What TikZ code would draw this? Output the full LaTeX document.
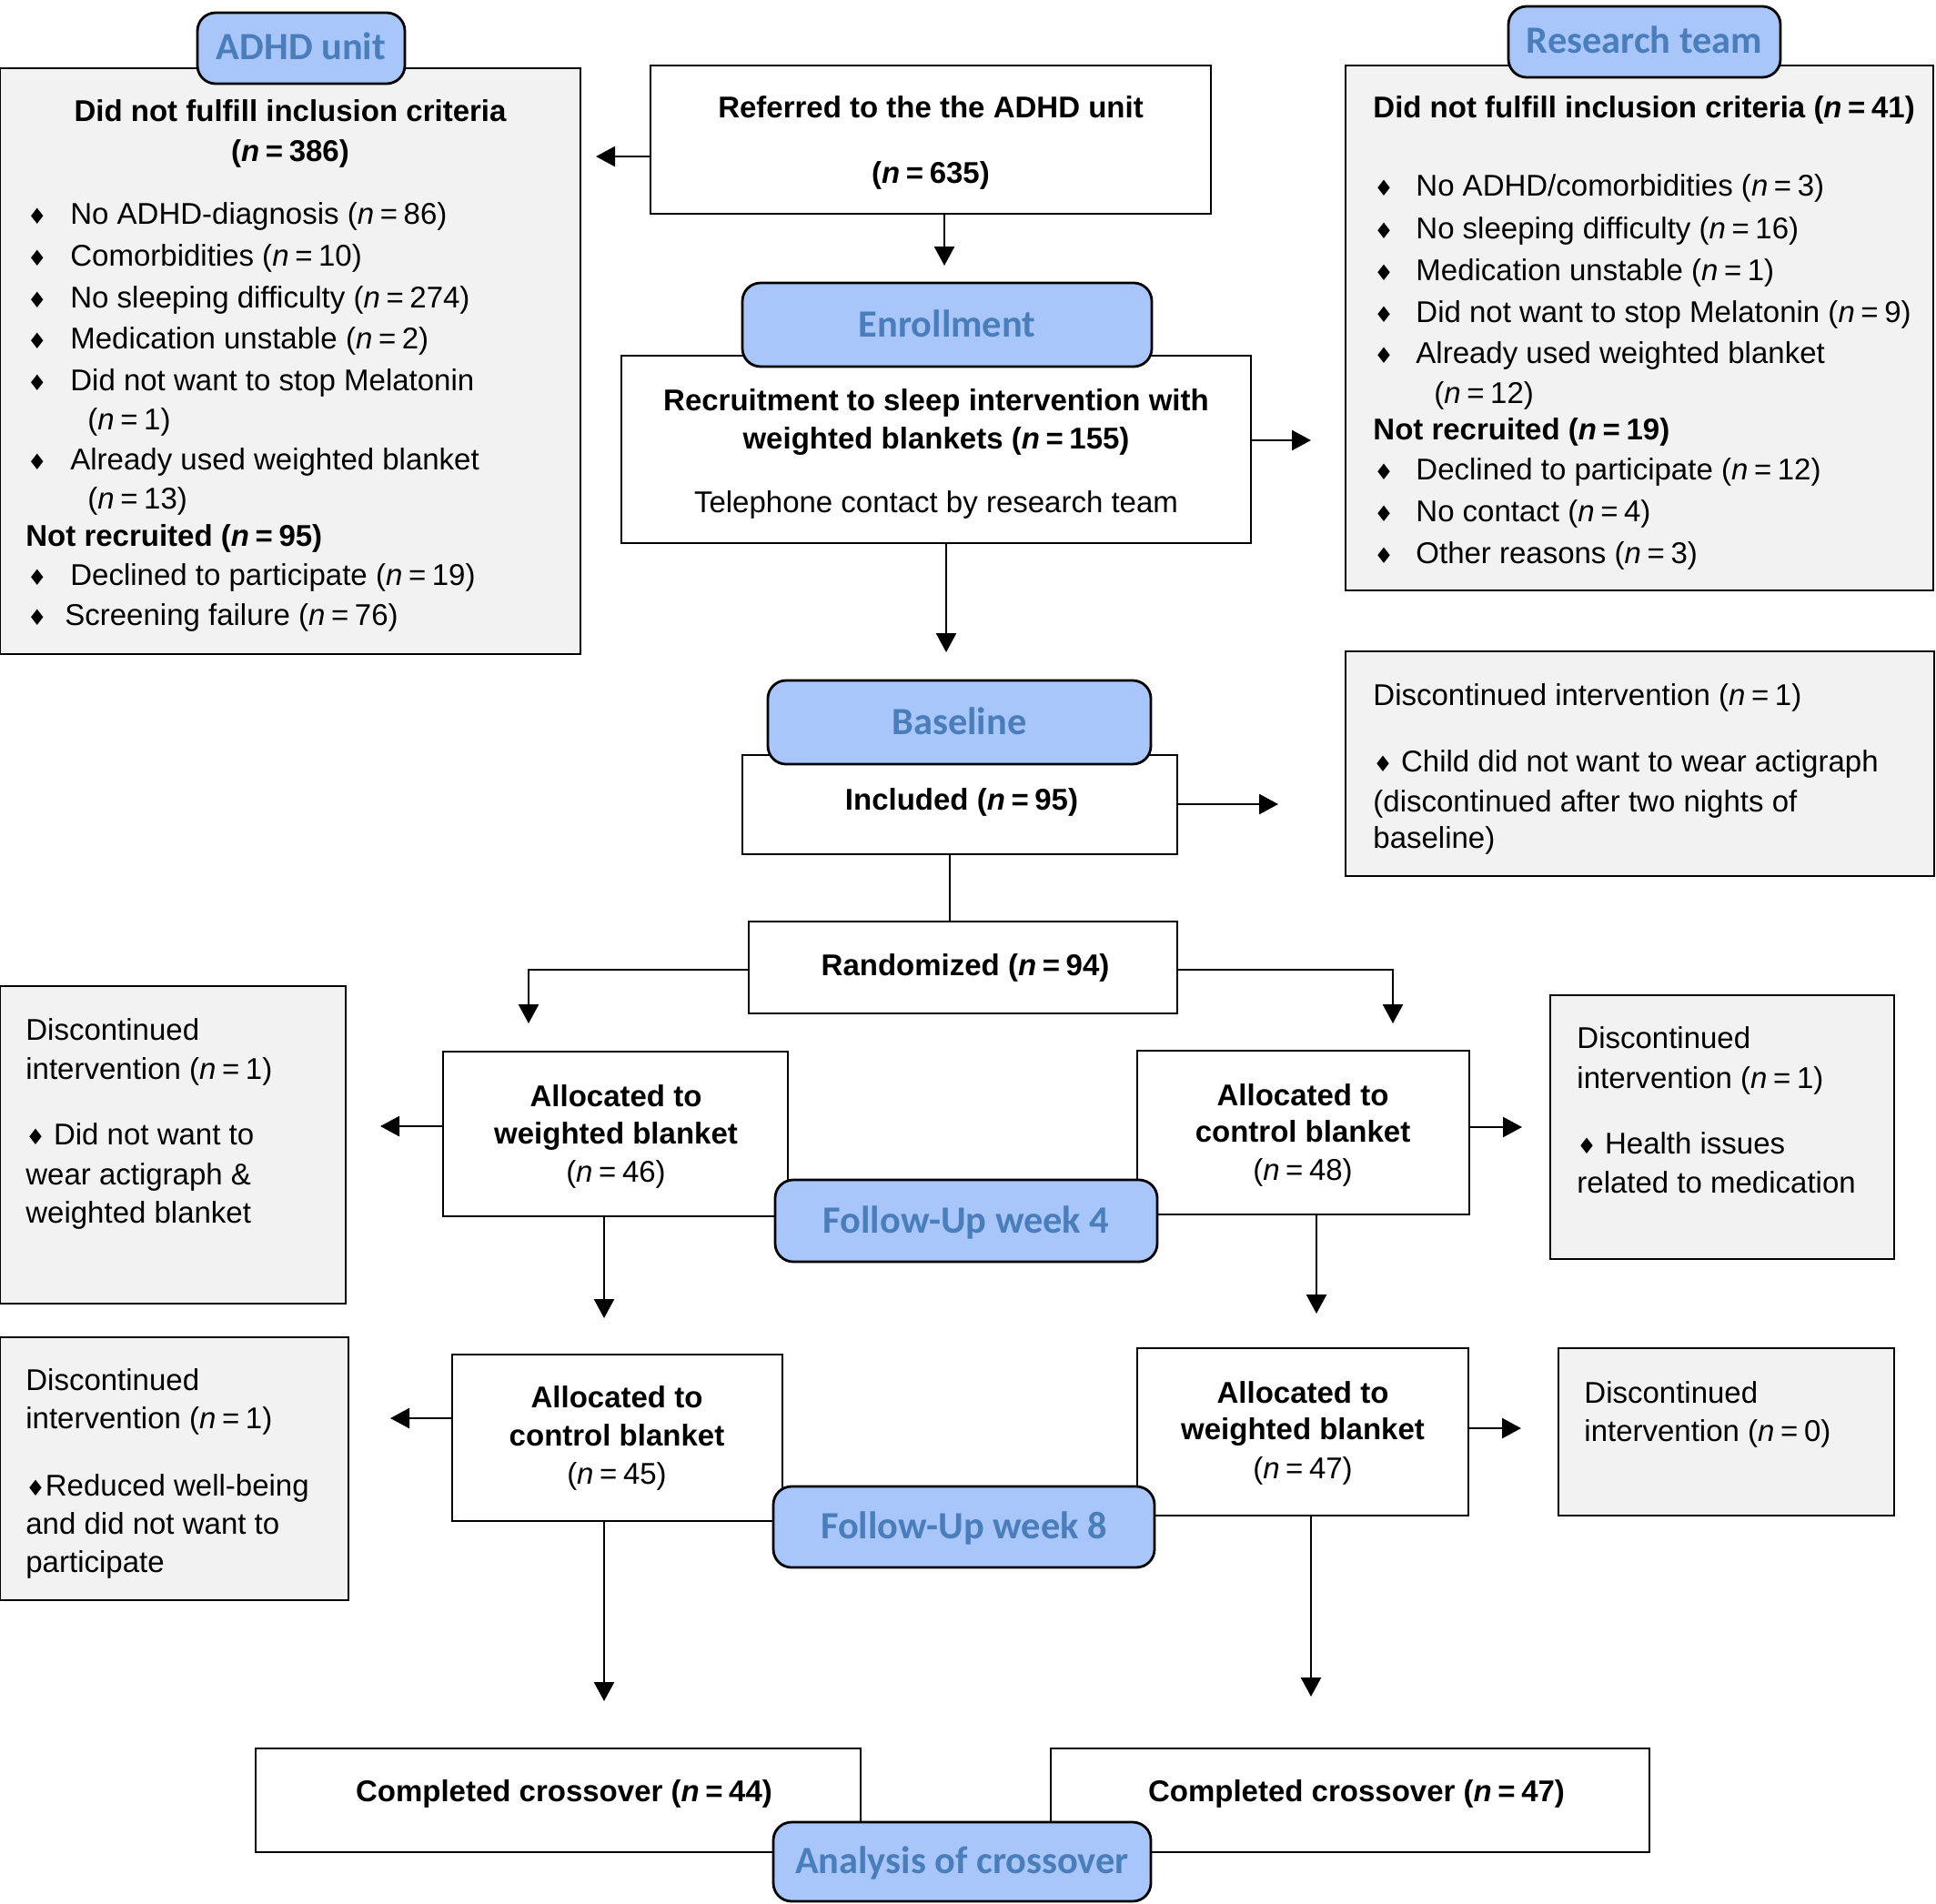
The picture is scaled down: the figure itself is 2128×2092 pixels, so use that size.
\documentclass[tikz,border=0pt]{standalone}
\usepackage{fontspec}
\setmainfont{Liberation Sans}
\newfontfamily\hdrfont{Carlito}
\newfontfamily\symfont{DejaVu Sans}
\usetikzlibrary{arrows.meta,fit}
\definecolor{graybox}{HTML}{F2F2F2}
\definecolor{hdrfill}{RGB}{169,198,250}
\definecolor{hdrtext}{RGB}{74,126,187}
\newcommand{\nn}[1]{(\textit{n}\hspace{0.2em}=\hspace{0.2em}#1)}
\newcommand{\bul}{{\symfont\fontsize{12}{12}\selectfont\char"2666}}
\begin{document}
\begin{tikzpicture}[x=0.5pt,y=-0.5pt,
  box/.style={draw, line width=1.3pt, fill=white, inner sep=0pt, outer sep=0pt},
  gbox/.style={box, fill=graybox},
  hdr/.style={draw, line width=1.4pt, fill=hdrfill, rounded corners=10pt, inner sep=0pt, outer sep=0pt},
  hdrt/.style={inner sep=0pt, anchor=base, text=hdrtext, font=\hdrfont\bfseries\fontsize{21.2}{24}\selectfont},
  t/.style={inner sep=0pt, font=\fontsize{16.5}{20}\selectfont},
  tb/.style={inner sep=0pt, font=\fontsize{16.5}{20}\selectfont\bfseries},
  tl/.style={t, anchor=base west},
  tbl/.style={tb, anchor=base west},
  tc/.style={t, anchor=base},
  tbc/.style={tb, anchor=base},
  bu/.style={t, anchor=base},
  arr/.style={line width=1.3pt, -{Triangle[length=10.5pt,width=11pt]}},
  ln/.style={line width=1.3pt}]
\useasboundingbox (0,0) rectangle (2128,2092);
\fill[white] (0,0) rectangle (2128,2092);

% ---------- boxes ----------
\node[gbox, fit={(0,75) (638,719)}] (lgray) {};
\node[gbox, fit={(1479,72) (2125,649)}] (rgray) {};
\node[box, fit={(715,72) (1331,235)}] (ref) {};
\node[box, fit={(683,391) (1375,597)}] (rec) {};
\node[box, fit={(816,830) (1294,939)}] (inc) {};
\node[gbox, fit={(1479,716) (2126,963)}] (dtop) {};
\node[box, fit={(823,1013) (1294,1114)}] (ran) {};
\node[gbox, fit={(0,1084) (380,1433)}] (dl1) {};
\node[box, fit={(487,1156) (866,1337)}] (wb1) {};
\node[box, fit={(1250,1155) (1615,1335)}] (cb1) {};
\node[gbox, fit={(1704,1094) (2082,1384)}] (dr1) {};
\node[gbox, fit={(0,1470) (383,1759)}] (dl2) {};
\node[box, fit={(497,1489) (860,1672)}] (cb2) {};
\node[box, fit={(1250,1482) (1614,1666)}] (wb2) {};
\node[gbox, fit={(1713,1482) (2082,1666)}] (dr2) {};
\node[box, fit={(281,1922) (946,2036)}] (comp1) {};
\node[box, fit={(1155,1922) (1813,2036)}] (comp2) {};

% ---------- connectors ----------
\coordinate (a1) at (655,172);
\draw[arr] (ref.west |- a1) -- (a1);
\coordinate (a2) at (1038,292);
\draw[arr] (ref.south -| a2) -- (a2);
\coordinate (a3) at (1441,484);
\draw[arr] (rec.east |- a3) -- (a3);
\coordinate (a4) at (1040,717);
\draw[arr] (rec.south -| a4) -- (a4);
\coordinate (a5) at (1405,884);
\draw[arr] (inc.east |- a5) -- (a5);
\coordinate (c6) at (1044,939);
\draw[ln] (inc.south -| c6) -- (ran.north -| c6);
\coordinate (r7) at (0,1066);
\coordinate (a7) at (581,1125);
\draw[arr] (ran.west |- r7) -| (a7);
\coordinate (a8) at (1531,1125);
\draw[arr] (ran.east |- r7) -| (a8);
\coordinate (a9) at (418,1238);
\draw[arr] (wb1.west |- a9) -- (a9);
\coordinate (a10) at (1673,1239);
\draw[arr] (cb1.east |- a10) -- (a10);
\coordinate (a11) at (664,1449);
\draw[arr] (wb1.south -| a11) -- (a11);
\coordinate (a12) at (1447,1444);
\draw[arr] (cb1.south -| a12) -- (a12);
\coordinate (a13) at (429,1559);
\draw[arr] (cb2.west |- a13) -- (a13);
\coordinate (a14) at (1672,1570);
\draw[arr] (wb2.east |- a14) -- (a14);
\coordinate (a15) at (664,1870);
\draw[arr] (cb2.south -| a15) -- (a15);
\coordinate (a16) at (1441,1865);
\draw[arr] (wb2.south -| a16) -- (a16);

% ---------- header labels ----------
\node[hdr, fit={(217,14) (445,92)}] (hadhd) {};
\node[hdr, fit={(1658,7) (1957,85)}] (hres) {};
\node[hdr, fit={(816,311) (1266,403)}] (henr) {};
\node[hdr, fit={(844,748) (1265,840)}] (hbase) {};
\node[hdr, fit={(852,1297) (1272,1387)}] (hfu4) {};
\node[hdr, fit={(850,1634) (1269,1723)}] (hfu8) {};
\node[hdr, fit={(850,2003) (1265,2090)}] (hana) {};
\node[hdrt] (thadhd) at ([yshift=-6.5pt]hadhd.center) {ADHD unit};
\node[hdrt] (thres) at ([yshift=-6.5pt]hres.center) {Research team};
\node[hdrt] (thenr) at ([yshift=-6.5pt]henr.center) {Enrollment};
\node[hdrt] (thbase) at ([yshift=-6.5pt]hbase.center) {Baseline};
\node[hdrt] (thfu4) at ([yshift=-6.5pt]hfu4.center) {Follow-Up week 4};
\node[hdrt] (thfu8) at ([yshift=-6.5pt]hfu8.center) {Follow-Up week 8};
\node[hdrt] (thana) at ([yshift=-6.5pt]hana.center) {Analysis of crossover};

% ---------- left gray box ----------
\node[tbc] (l0a) at (319,134) {Did not fulfill inclusion criteria};
\node[tbc] (l0b) at (319,177) {\nn{386}};
\node[bu] (lb1) at (41,247) {\bul};
\node[tl] (l1) at (77,247) {No ADHD-diagnosis \nn{86}};
\node[bu] (lb2) at (41,292) {\bul};
\node[tl] (l2) at (77,292) {Comorbidities \nn{10}};
\node[bu] (lb3) at (41,338) {\bul};
\node[tl] (l3) at (77,338) {No sleeping difficulty \nn{274}};
\node[bu] (lb4) at (41,383) {\bul};
\node[tl] (l4) at (77,383) {Medication unstable \nn{2}};
\node[bu] (lb5) at (41,429) {\bul};
\node[tl] (l5) at (77,429) {Did not want to stop Melatonin};
\node[tl] (l5b) at (96,472) {\nn{1}};
\node[bu] (lb6) at (41,516) {\bul};
\node[tl] (l6) at (77,516) {Already used weighted blanket};
\node[tl] (l6b) at (96,559) {\nn{13}};
\node[tbl] (l7) at (28,600) {Not recruited \nn{95}};
\node[bu] (lb8) at (41,643) {\bul};
\node[tl] (l8) at (77,643) {Declined to participate \nn{19}};
\node[bu] (lb9) at (41,687) {\bul};
\node[tl] (l9) at (71,687) {Screening failure \nn{76}};

% ---------- right gray box ----------
\node[tbl] (r0) at (1509,130) {Did not fulfill inclusion criteria \nn{41}};
\node[bu] (rb1) at (1521,216) {\bul};
\node[tl] (r1) at (1556,216) {No ADHD/comorbidities \nn{3}};
\node[bu] (rb2) at (1521,262) {\bul};
\node[tl] (r2) at (1556,262) {No sleeping difficulty \nn{16}};
\node[bu] (rb3) at (1521,308) {\bul};
\node[tl] (r3) at (1556,308) {Medication unstable \nn{1}};
\node[bu] (rb4) at (1521,354) {\bul};
\node[tl] (r4) at (1556,354) {Did not want to stop Melatonin \nn{9}};
\node[bu] (rb5) at (1521,399) {\bul};
\node[tl] (r5) at (1556,399) {Already used weighted blanket};
\node[tl] (r5b) at (1576,443) {\nn{12}};
\node[tbl] (r6) at (1509,483) {Not recruited \nn{19}};
\node[bu] (rb7) at (1521,527) {\bul};
\node[tl] (r7) at (1556,527) {Declined to participate \nn{12}};
\node[bu] (rb8) at (1521,573) {\bul};
\node[tl] (r8) at (1556,573) {No contact \nn{4}};
\node[bu] (rb9) at (1521,619) {\bul};
\node[tl] (r9) at (1556,619) {Other reasons \nn{3}};

% ---------- central boxes text ----------
\node[tbc] (ref1) at (1023,130) {Referred to the the ADHD unit};
\node[tbc] (ref2) at (1023,202) {\nn{635}};
\node[tbc] (rec1) at (1029,451) {Recruitment to sleep intervention with};
\node[tbc] (rec2) at (1029,493) {weighted blankets \nn{155}};
\node[tc] (rec3) at (1029,563) {Telephone contact by research team};
\node[tbc] (inc1) at (1057,890) {Included \nn{95}};
\node[tbc] (ran1) at (1061,1072) {Randomized \nn{94}};
\node[tbc] (wb1a) at (677,1216) {Allocated to};
\node[tbc] (wb1b) at (677,1257) {weighted blanket};
\node[tc] (wb1c) at (677,1299) {\nn{46}};
\node[tbc] (cb1a) at (1432,1215) {Allocated to};
\node[tbc] (cb1b) at (1432,1255) {control blanket};
\node[tc] (cb1c) at (1432,1297) {\nn{48}};
\node[tbc] (cb2a) at (678,1547) {Allocated to};
\node[tbc] (cb2b) at (678,1589) {control blanket};
\node[tc] (cb2c) at (678,1631) {\nn{45}};
\node[tbc] (wb2a) at (1432,1542) {Allocated to};
\node[tbc] (wb2b) at (1432,1582) {weighted blanket};
\node[tc] (wb2c) at (1432,1625) {\nn{47}};
\node[tbc] (cp1) at (620,1980) {Completed crossover \nn{44}};
\node[tbc] (cp2) at (1491,1980) {Completed crossover \nn{47}};

% ---------- discontinued boxes ----------
\node[tl] (d1a) at (1509,775) {Discontinued intervention \nn{1}};
\node[tl] (d1b) at (1509,848) {\bul\ Child did not want to wear actigraph};
\node[tl] (d1c) at (1509,892) {(discontinued after two nights of};
\node[tl] (d1d) at (1509,932) {baseline)};

\node[tl] (d2a) at (28,1143) {Discontinued};
\node[tl] (d2b) at (28,1186) {intervention \nn{1}};
\node[tl] (d2c) at (28,1258) {\bul\ Did not want to};
\node[tl] (d2d) at (28,1302) {wear actigraph \&};
\node[tl] (d2e) at (28,1344) {weighted blanket};

\node[tl] (d3a) at (1733,1152) {Discontinued};
\node[tl] (d3b) at (1733,1196) {intervention \nn{1}};
\node[tl] (d3c) at (1733,1268) {\bul\ Health issues};
\node[tl] (d3d) at (1733,1311) {related to medication};

\node[tl] (d4a) at (28,1528) {Discontinued};
\node[tl] (d4b) at (28,1570) {intervention \nn{1}};
\node[tl] (d4c) at (28,1644) {\bul Reduced well-being};
\node[tl] (d4d) at (28,1686) {and did not want to};
\node[tl] (d4e) at (28,1728) {participate};

\node[tl] (d5a) at (1741,1542) {Discontinued};
\node[tl] (d5b) at (1741,1584) {intervention \nn{0}};
\end{tikzpicture}
\end{document}
